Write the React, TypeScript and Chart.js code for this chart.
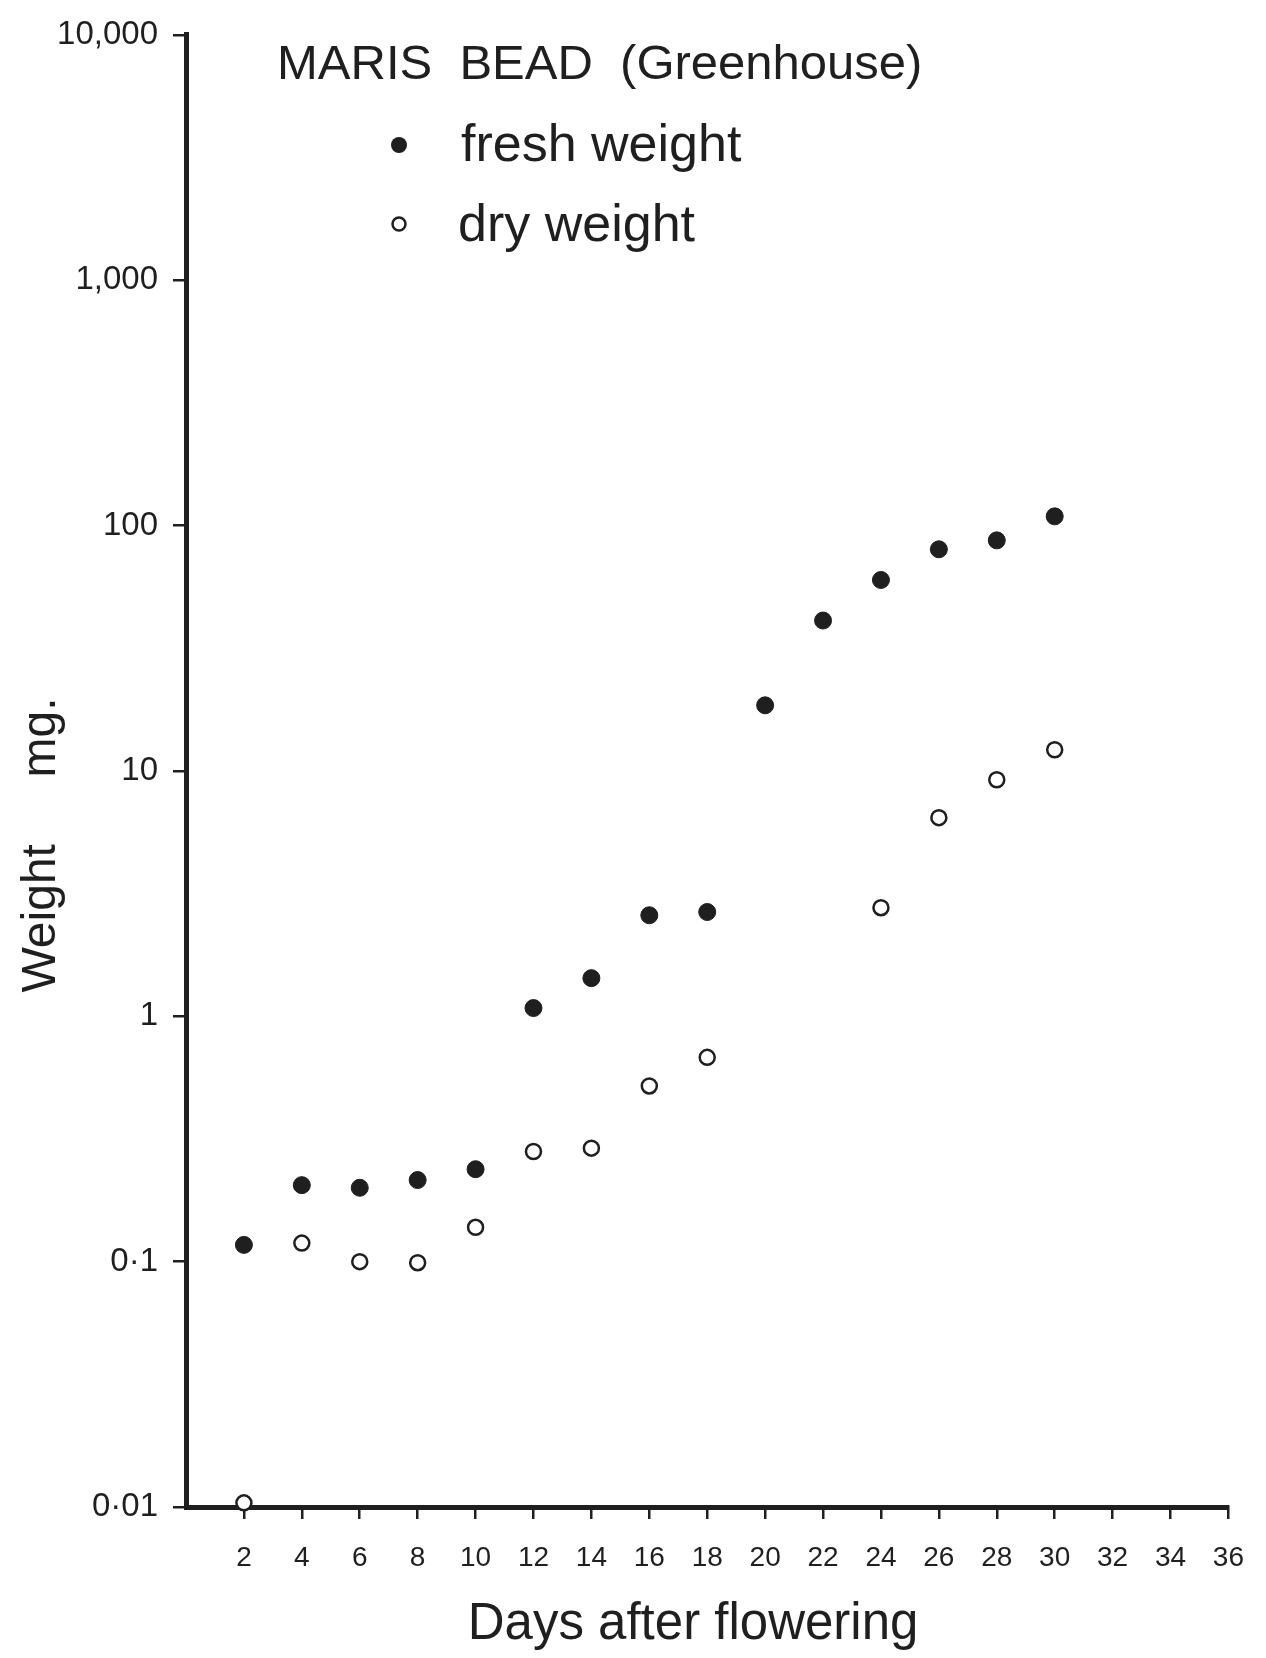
import React, { useEffect, useRef } from "react";
import { Chart, registerables } from "chart.js";

Chart.register(...registerables);

// ---- data ----
const freshDays = [2, 4, 6, 8, 10, 12, 14, 16, 18, 20, 22, 24, 26, 28, 30];
const freshWeight = [0.117, 0.205, 0.2, 0.215, 0.238, 1.08, 1.43, 2.58, 2.66, 18.5, 41, 60, 80, 87, 109];
const dryDays = [2, 4, 6, 8, 10, 12, 14, 16, 18, 24, 26, 28, 30];
const dryWeight = [0.0104, 0.119, 0.1, 0.099, 0.138, 0.281, 0.29, 0.52, 0.68, 2.77, 6.45, 9.2, 12.2];

const xTicks = [2, 4, 6, 8, 10, 12, 14, 16, 18, 20, 22, 24, 26, 28, 30, 32, 34, 36];
const yTicks = [0.01, 0.1, 1, 10, 100, 1000, 10000];
const yTickLabels = ["0·01", "0·1", "1", "10", "100", "1,000", "10,000"];

const titleText = "MARIS  BEAD  (Greenhouse)";
const legendLabels = ["fresh weight", "dry weight"];
const xTitle = "Days after flowering  ";
const yTitle = "Weight     mg.";

const INK = "#1f1f1f";
const SANS = "'Liberation Sans', Arial, sans-serif";
const NARROW = "'Liberation Sans Narrow', 'Liberation Sans', Arial, sans-serif";

const overlayPlugin = {
  id: "overlayText",
  afterDraw(chart: any) {
    const ctx = chart.ctx as CanvasRenderingContext2D;
    ctx.save();
    ctx.fillStyle = INK;
    ctx.strokeStyle = INK;
    ctx.textBaseline = "alphabetic";
    ctx.textAlign = "left";
    // title
    ctx.font = `49px ${SANS}`;
    ctx.fillText(titleText, 277, 79);
    // legend
    ctx.beginPath();
    ctx.arc(399, 145, 8, 0, Math.PI * 2);
    ctx.fill();
    ctx.beginPath();
    ctx.lineWidth = 2.5;
    ctx.arc(399, 224, 6.5, 0, Math.PI * 2);
    ctx.stroke();
    ctx.font = `52px ${SANS}`;
    ctx.fillText(legendLabels[0], 461, 161);
    ctx.fillText(legendLabels[1], 458, 241);
    // y axis title
    ctx.translate(42, 845);
    ctx.rotate(-Math.PI / 2);
    ctx.textAlign = "center";
    ctx.textBaseline = "middle";
    ctx.font = `48px ${SANS}`;
    ctx.fillText(yTitle, 0, 0);
    ctx.restore();
  },
};

export default function App() {
  const ref = useRef<HTMLCanvasElement | null>(null);

  useEffect(() => {
    if (!ref.current) return;
    const chart = new Chart(ref.current, {
      type: "scatter",
      data: {
        datasets: [
          {
            label: legendLabels[0],
            data: freshDays.map((d, i) => ({ x: d, y: freshWeight[i] })),
            pointRadius: 8.5,
            pointBackgroundColor: INK,
            pointBorderColor: INK,
            pointBorderWidth: 1,
            showLine: false,
            clip: false,
          } as any,
          {
            label: legendLabels[1],
            data: dryDays.map((d, i) => ({ x: d, y: dryWeight[i] })),
            pointRadius: 7.5,
            pointBackgroundColor: "#ffffff",
            pointBorderColor: INK,
            pointBorderWidth: 2.5,
            showLine: false,
            clip: false,
          } as any,
        ],
      },
      options: {
        animation: false,
        responsive: false,
        maintainAspectRatio: false,
        layout: { padding: { left: 0, right: 34, top: 32, bottom: 0 } },
        plugins: {
          legend: { display: false },
          tooltip: { enabled: false },
          title: { display: false },
        },
        scales: {
          x: {
            type: "linear",
            position: "bottom",
            min: 0,
            max: 36,
            afterBuildTicks: (s: any) => {
              s.ticks = xTicks.map((v) => ({ value: v }));
            },
            afterFit: (s: any) => {
              s.height = 151;
            },
            grid: {
              display: true,
              drawOnChartArea: false,
              drawTicks: true,
              tickLength: 12,
              color: INK,
              lineWidth: 2.5,
            },
            border: { display: true, color: INK, width: 5 },
            ticks: {
              color: INK,
              font: { family: NARROW, size: 28 },
              padding: 22,
              maxRotation: 0,
              autoSkip: false,
              callback: (v: any) => String(v),
            },
            title: {
              display: true,
              text: xTitle,
              color: INK,
              font: { family: SANS, size: 51 },
              padding: { top: 0, bottom: 2 },
            },
          },
          y: {
            type: "logarithmic",
            position: "left",
            min: 0.01,
            max: 10000,
            afterBuildTicks: (s: any) => {
              s.ticks = yTicks.map((v) => ({ value: v }));
            },
            afterFit: (s: any) => {
              s.width = 186;
            },
            grid: {
              display: true,
              drawOnChartArea: false,
              drawTicks: true,
              tickLength: 13,
              color: INK,
              lineWidth: 2.5,
            },
            border: { display: true, color: INK, width: 5 },
            ticks: {
              color: INK,
              font: { family: NARROW, size: 33 },
              padding: 15,
              autoSkip: false,
              callback: (v: any) => {
                const i = yTicks.findIndex((t) => Math.abs(Math.log10(t) - Math.log10(Number(v))) < 1e-6);
                return i >= 0 ? yTickLabels[i] : "";
              },
            },
          },
        },
      } as any,
      plugins: [overlayPlugin],
    });
    return () => chart.destroy();
  }, []);

  return (
    <div style={{ position: "absolute", left: 0, top: 0, width: 1266, height: 1658, background: "#ffffff" }}>
      <canvas ref={ref} width={1266} height={1658} style={{ display: "block", width: 1266, height: 1658 }} />
    </div>
  );
}
